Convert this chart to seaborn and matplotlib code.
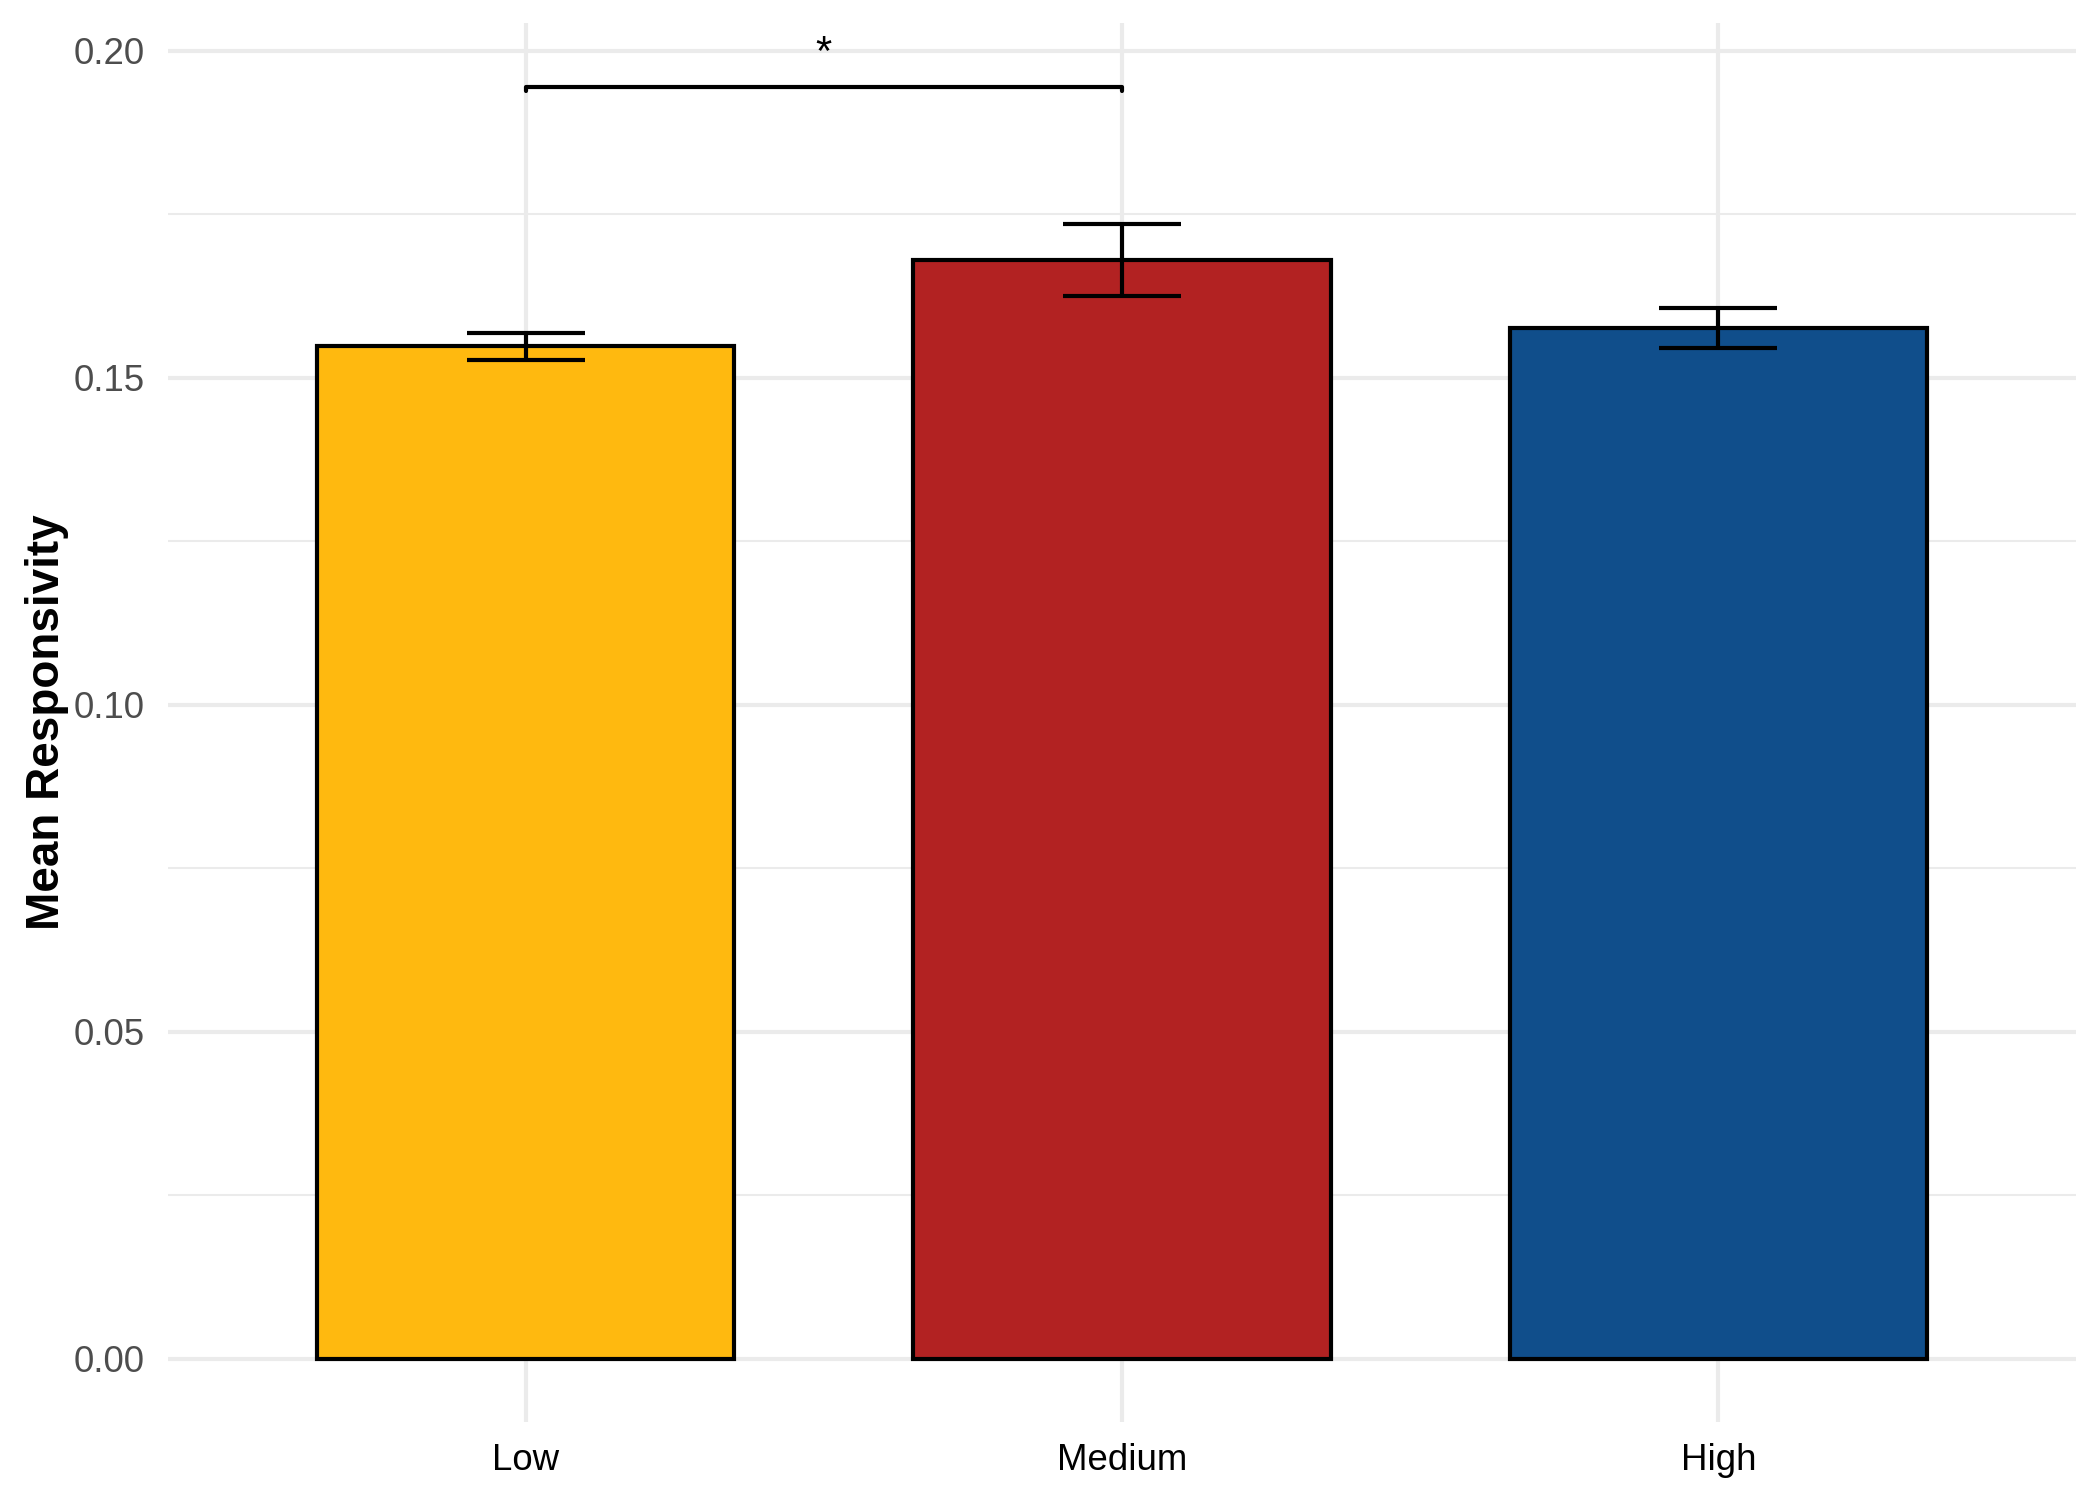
import numpy as np
import matplotlib
matplotlib.use("Agg")
import matplotlib.pyplot as plt
from matplotlib.ticker import MultipleLocator, FormatStrFormatter
import seaborn as sns

# values
categories = ["Low", "Medium", "High"]
means = [0.1548, 0.1680, 0.1576]
sems = [0.0021, 0.0055, 0.0031]
bar_colors = ["#FFB90F", "#B22222", "#104E8B"]

sig_pair = [0, 1]
sig_y = 0.1945
sig_label = "*"
star_y = 0.1995

sns.set_style("white")
plt.rcParams['font.family'] = ['Liberation Sans', 'DejaVu Sans']

fig, ax = plt.subplots(figsize=(7, 5), dpi=300)
fig.subplots_adjust(left=0.08, right=0.9886, top=0.9845, bottom=0.0522)

sns.barplot(x=categories, y=means, hue=categories, palette=bar_colors,
            width=0.7, edgecolor="black", linewidth=1.0, legend=False,
            saturation=1, ax=ax, zorder=3)

xpos = np.arange(len(categories))
ax.errorbar(xpos, means, yerr=sems, fmt="none", ecolor="black",
            elinewidth=1.0, capsize=14.2, capthick=1.0, zorder=4)

# significance bracket
tip = 0.0006
ax.plot([sig_pair[0], sig_pair[0], sig_pair[1], sig_pair[1]],
        [sig_y - tip, sig_y, sig_y, sig_y - tip], color="black", lw=1.0,
        zorder=4)
ax.text(np.mean(sig_pair), star_y, sig_label, ha="center", va="center",
        fontsize=10, color="black")

ax.set_xlim(-0.6, 2.6)
ax.set_ylim(-0.0096, 0.2042)
ax.yaxis.set_major_locator(MultipleLocator(0.05))
ax.yaxis.set_minor_locator(MultipleLocator(0.025))
ax.yaxis.set_major_formatter(FormatStrFormatter("%.2f"))

ax.grid(which="major", axis="both", color="#EBEBEB", lw=1.0, zorder=0)
ax.grid(which="minor", axis="y", color="#EBEBEB", lw=0.5, zorder=0)
ax.set_axisbelow(True)
for s in ax.spines.values():
    s.set_visible(False)

ax.tick_params(axis="both", which="both", length=0)
ax.tick_params(axis="y", labelsize=8.8, labelcolor="#4D4D4D", pad=5.5)
ax.tick_params(axis="x", labelsize=8.8, labelcolor="black", pad=5)

ax.set_xlabel("")
ax.set_ylabel("Mean Responsivity", fontsize=11, fontweight="bold",
              color="black")
ax.yaxis.set_label_coords(-0.052, 0.5)

fig.savefig("out.png", dpi=300)
